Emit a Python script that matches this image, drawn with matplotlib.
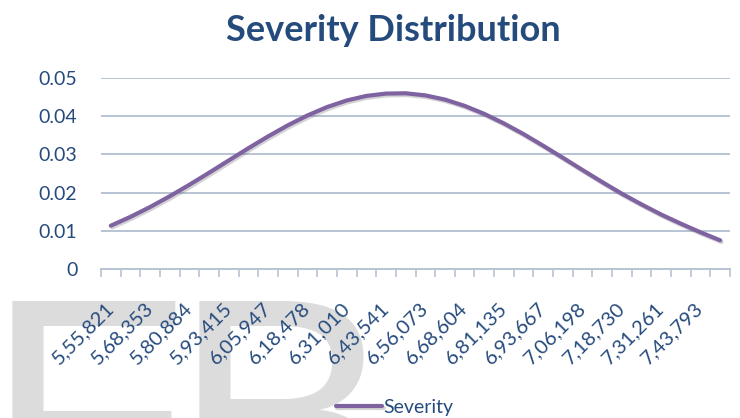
import matplotlib
matplotlib.use("Agg")
import matplotlib.pyplot as plt
import matplotlib.patheffects as pe
from matplotlib.ticker import FixedLocator, NullFormatter

# Loss amounts (category axis) and their probability density
amounts = [555821, 562087, 568353, 574618, 580884, 587150, 593415, 599681,
           605947, 612212, 618478, 624744, 631010, 637275, 643541, 649807,
           656073, 662338, 668604, 674869, 681135, 687401, 693667, 699932,
           706198, 712464, 718730, 724995, 731261, 737527, 743793, 750058]
severity = [0.01133, 0.01365, 0.01623, 0.01905, 0.02206, 0.02520, 0.02842, 0.03162,
            0.03471, 0.03760, 0.04019, 0.04239, 0.04412, 0.04531, 0.04592, 0.04600,
            0.04545, 0.04435, 0.04270, 0.04060, 0.03810, 0.03530, 0.03225, 0.02910,
            0.02590, 0.02275, 0.01970, 0.01690, 0.01425, 0.01185, 0.00960, 0.00750]
y_ticks = [0, 0.01, 0.02, 0.03, 0.04, 0.05]
y_tick_labels = ["0", "0.01", "0.02", "0.03", "0.04", "0.05"]


def indian_format(n):
    s = str(n)
    last3, rest = s[-3:], s[:-3]
    groups = []
    while len(rest) > 2:
        groups.insert(0, rest[-2:])
        rest = rest[:-2]
    if rest:
        groups.insert(0, rest)
    return ",".join(groups + [last3])


TEXT = "#254a7c"
GRID = "#b8c4d4"
LINE = "#7f63a1"

plt.rcParams["font.family"] = ["Lato", "DejaVu Sans"]

fig = plt.figure(figsize=(7.4, 4.18), dpi=100)

# Large faint letters behind the chart
for xpos, letter in ((-0.021, "F"), (0.2324, "B")):
    fig.text(xpos, -0.2676, letter, fontsize=240, family="Liberation Sans",
             color="#dcdcdc", zorder=0)

ax = fig.add_axes([0.1365, 0.3565, 0.85, 0.4569])
ax.set_zorder(2)
ax.patch.set_alpha(0)

x = list(range(len(amounts)))
ax.plot(x, severity, color=LINE, linewidth=3.0, solid_capstyle="round",
        label="Severity", zorder=3,
        path_effects=[pe.SimpleLineShadow(offset=(1.0, -1.3), shadow_color="#555555", alpha=0.25),
                      pe.Normal()])

ax.set_xlim(-0.5, len(amounts) - 0.5)
ax.set_ylim(0, 0.05)

ax.set_yticks(y_ticks)
ax.set_yticklabels(y_tick_labels)
ax.yaxis.grid(True, color=GRID, linewidth=1.4)
ax.set_axisbelow(True)
ax.tick_params(axis="y", length=0, pad=17, labelsize=14, labelcolor=TEXT)

# Tick marks between categories, labels on every second category
ax.xaxis.set_minor_locator(FixedLocator([i - 0.5 for i in range(len(amounts) + 1)]))
ax.xaxis.set_minor_formatter(NullFormatter())
label_pos = x[::2]
ax.set_xticks(label_pos)
ax.set_xticklabels([indian_format(a) for a in amounts[::2]], rotation=45,
                   ha="right", va="center", rotation_mode="anchor")
ax.tick_params(axis="x", which="major", length=0, pad=26, labelsize=14.5, labelcolor=TEXT)
ax.tick_params(axis="x", which="minor", length=6, width=1.2, color=GRID, direction="out")

for side in ("top", "right", "left"):
    ax.spines[side].set_visible(False)
ax.spines["bottom"].set_color(GRID)
ax.spines["bottom"].set_linewidth(1.4)

fig.text(0.531, 0.928, "Severity Distribution", ha="center", va="center",
         fontsize=26, fontweight="bold", color=TEXT)

fig.legend(loc="lower center", bbox_to_anchor=(0.533, -0.037), frameon=False,
           handlelength=2.4, handletextpad=0.05, fontsize=14, labelcolor=TEXT)

fig.savefig("out.png", dpi=100)
